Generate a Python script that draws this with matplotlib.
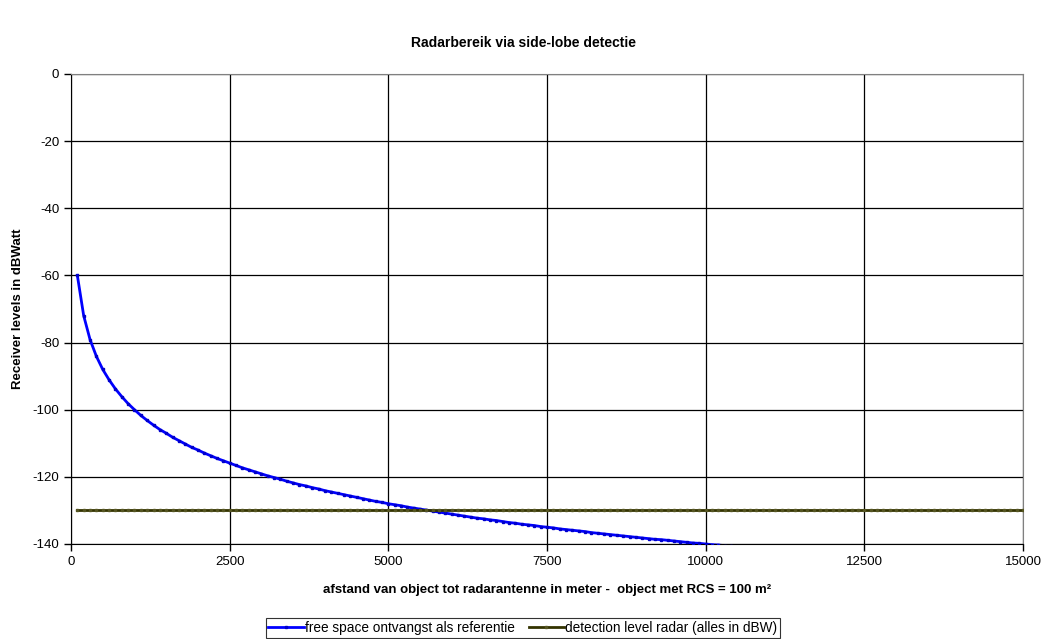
import matplotlib
matplotlib.use("Agg")
import matplotlib.pyplot as plt

plt.rcParams['font.family'] = ['Liberation Sans', 'DejaVu Sans']
plt.rcParams['axes.unicode_minus'] = False

# afstand in meter (stappen van 100 m)
free_x = [100 * n for n in range(1, 111)]
# ontvangen niveau in dBW
free_level = [
    -60.0, -72.0, -79.1, -84.1, -88.0, -91.1, -93.8, -96.1, -98.2, -100.0,
    -101.7, -103.2, -104.6, -105.9, -107.0, -108.2, -109.2, -110.2, -111.2, -112.0,
    -112.9, -113.7, -114.5, -115.2, -115.9, -116.6, -117.3, -117.9, -118.5, -119.1,
    -119.7, -120.2, -120.7, -121.3, -121.8, -122.3, -122.7, -123.2, -123.6, -124.1,
    -124.5, -124.9, -125.3, -125.7, -126.1, -126.5, -126.9, -127.3, -127.6, -128.0,
    -128.3, -128.6, -129.0, -129.3, -129.6, -129.9, -130.2, -130.5, -130.8, -131.1,
    -131.4, -131.7, -132.0, -132.3, -132.5, -132.8, -133.0, -133.3, -133.6, -133.8,
    -134.1, -134.3, -134.5, -134.8, -135.0, -135.2, -135.5, -135.7, -135.9, -136.1,
    -136.3, -136.6, -136.8, -137.0, -137.2, -137.4, -137.6, -137.8, -138.0, -138.2,
    -138.4, -138.6, -138.7, -138.9, -139.1, -139.3, -139.5, -139.7, -139.8, -140.0,
    -140.2, -140.3, -140.5, -140.7, -140.9, -141.0, -141.2, -141.3, -141.5, -141.7,
]

det_x = [100 * n for n in range(1, 151)]
det_level = [-130.0] * len(det_x)

x_ticks = [0, 2500, 5000, 7500, 10000, 12500, 15000]
y_ticks = [0, -20, -40, -60, -80, -100, -120, -140]

fig = plt.figure(figsize=(10.47, 6.39), dpi=100)
ax = fig.add_axes([71 / 1047, 1 - 544 / 639, (1023 - 71) / 1047, (544 - 74) / 639])

ax.plot(free_x, free_level, color='#0000FF', lw=2.0, marker='s', ms=1.6,
        mec='#0000CC', mfc='#0000CC', label='free space ontvangst als referentie',
        zorder=3)
ax.plot(det_x, det_level, color='#333300', lw=2.0, marker='s', ms=1.6,
        mec='#555522', mfc='#555522', label='detection level radar (alles in dBW)',
        zorder=3)

ax.set_xlim(0, 15000)
ax.set_ylim(-140, 0)
ax.set_xticks(x_ticks)
ax.set_yticks(y_ticks)
ax.tick_params(direction='out', length=5, width=1, labelsize=9.5, colors='black')
ax.grid(True, color='black', lw=0.9)
ax.set_axisbelow(True)
for side in ['top', 'right']:
    ax.spines[side].set_color('#808080')
for side in ['left', 'bottom']:
    ax.spines[side].set_color('black')

ax.set_xlabel('afstand van object tot radarantenne in meter -  object met RCS = 100 m²',
              fontsize=9.5, fontweight='bold', labelpad=12)
ax.set_ylabel('Receiver levels in dBWatt', fontsize=9.5, fontweight='bold', labelpad=6)
fig.suptitle('Radarbereik via side-lobe detectie', fontsize=10, fontweight='bold',
             y=1 - 43 / 639, va='center')

leg = fig.legend(loc='center', bbox_to_anchor=(523 / 1047, 1 - 628 / 639), ncol=2,
                 fontsize=9.8, frameon=True, fancybox=False, edgecolor='black',
                 handlelength=2.6, handletextpad=0.1, columnspacing=1.0,
                 borderpad=0.2)
leg.get_frame().set_linewidth(0.8)

fig.savefig('out.png', dpi=100)
